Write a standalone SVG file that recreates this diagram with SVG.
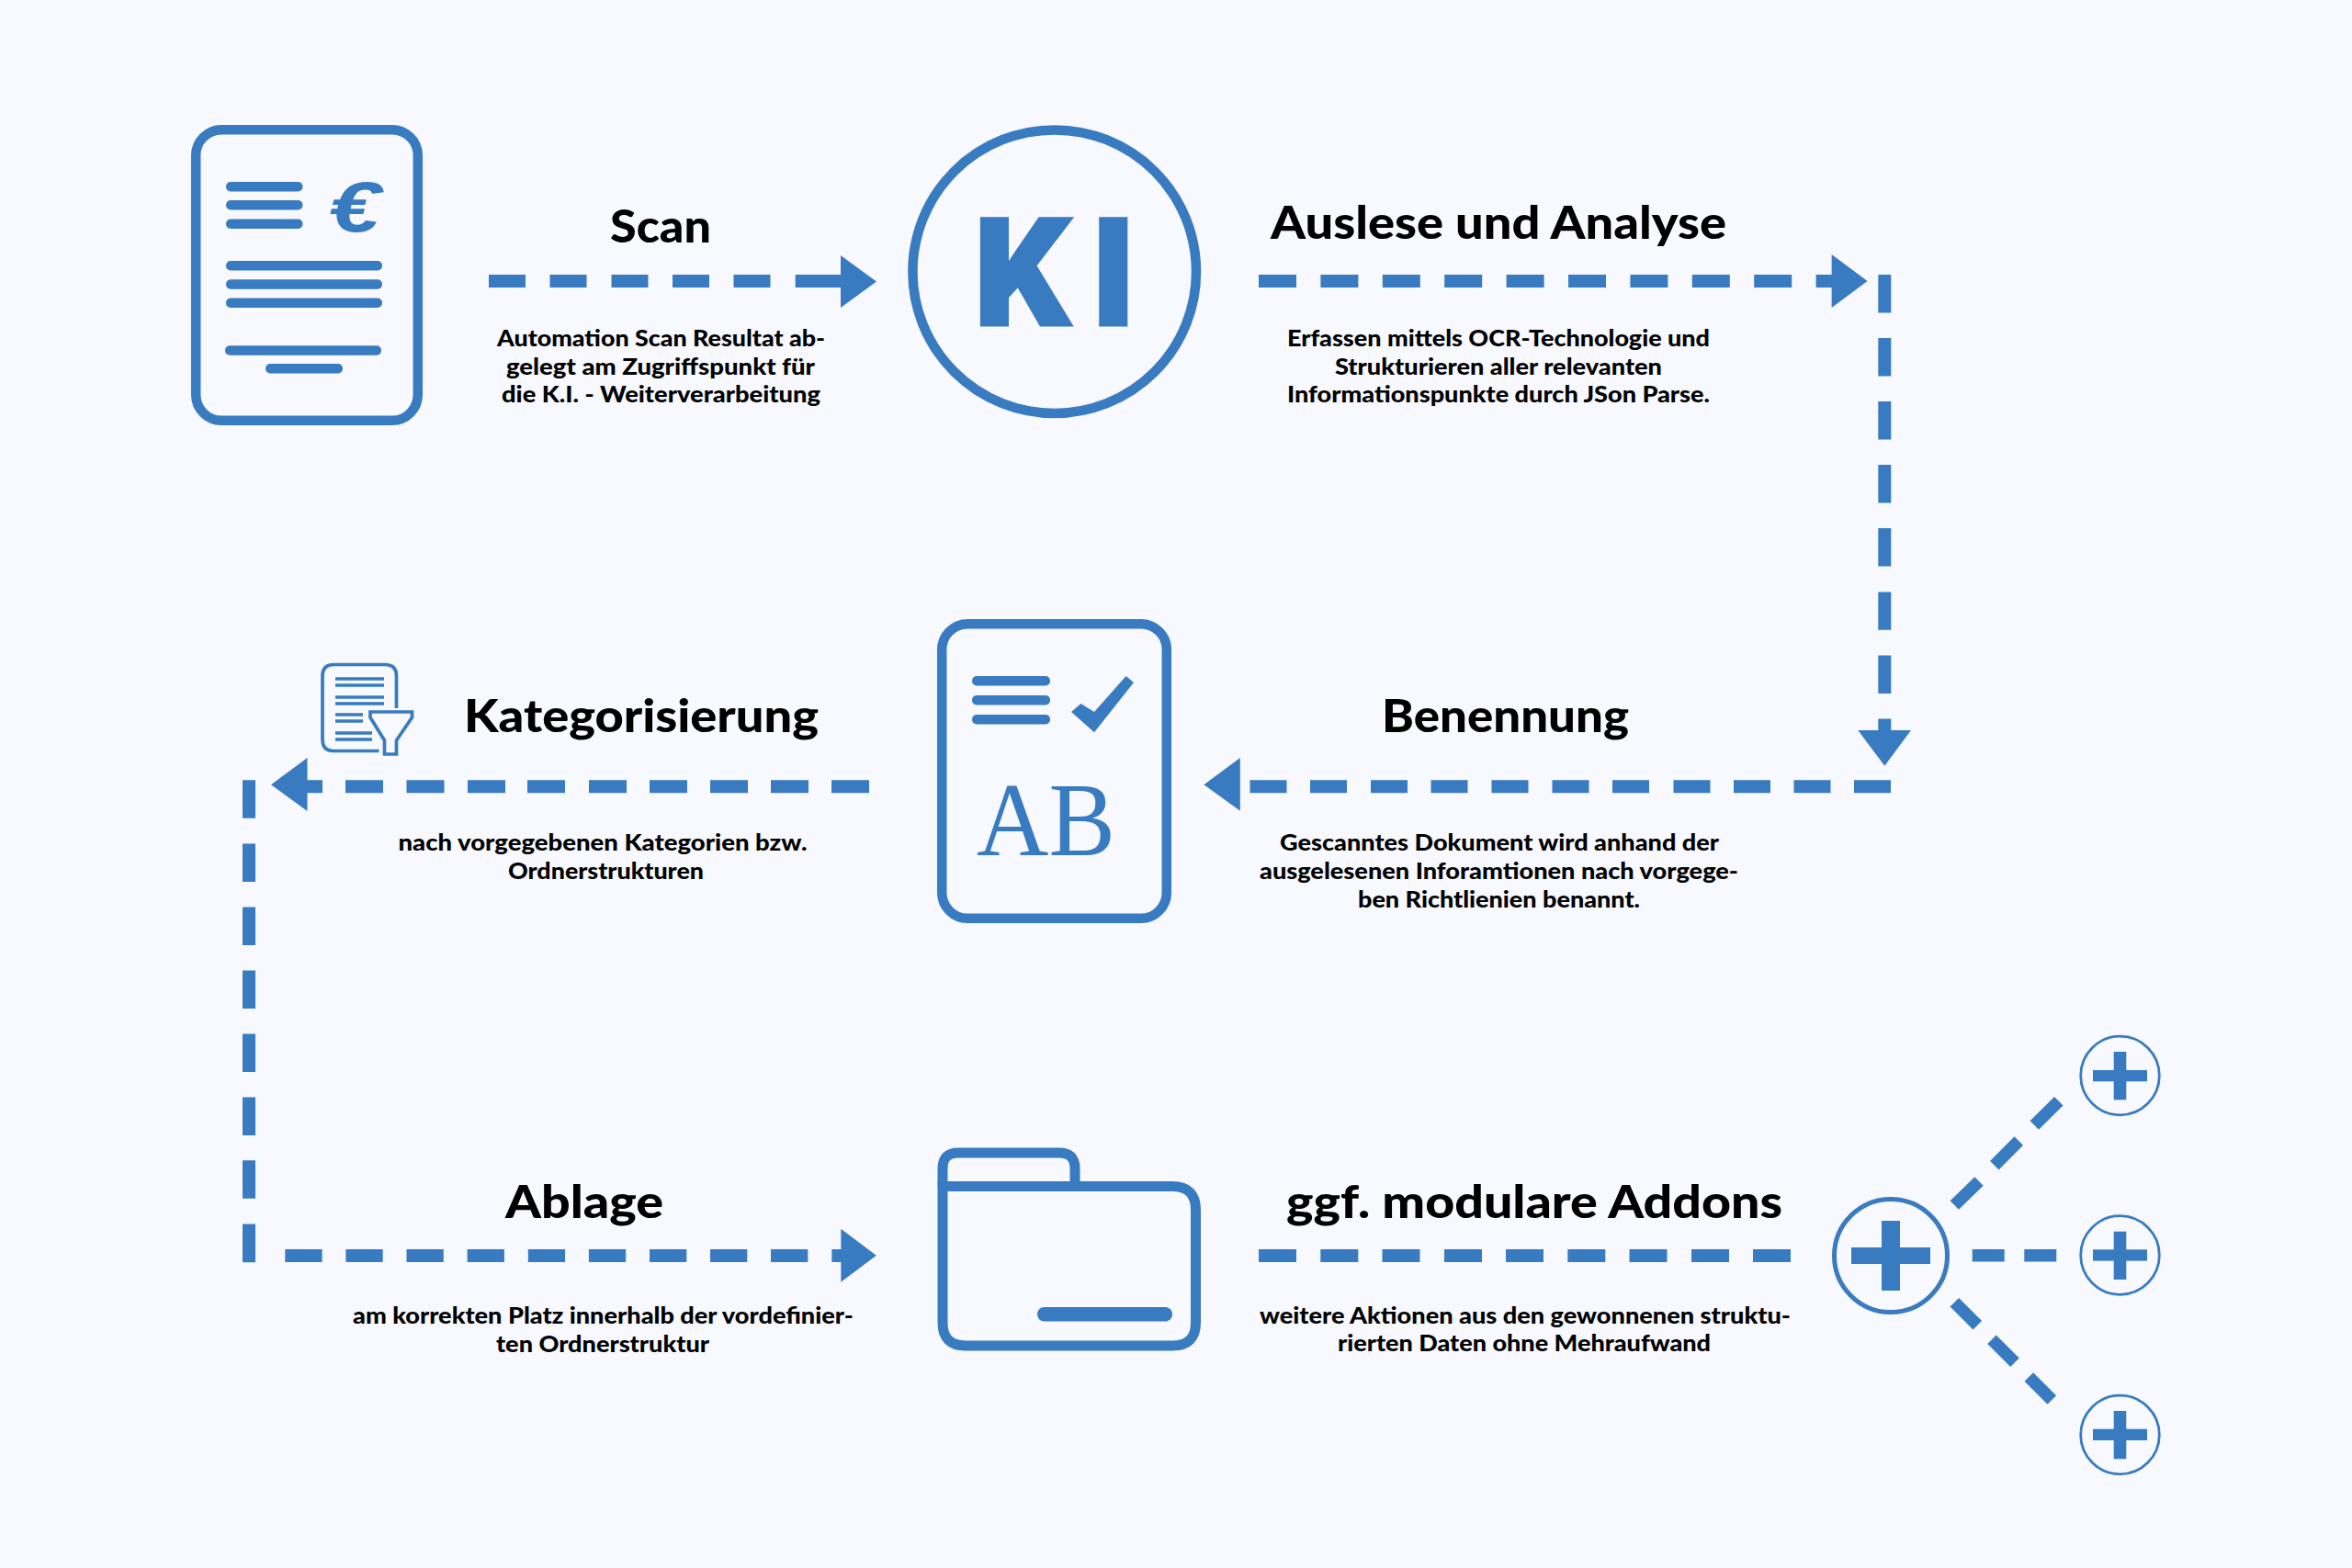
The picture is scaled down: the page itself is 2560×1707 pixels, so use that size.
<svg xmlns="http://www.w3.org/2000/svg" width="2560" height="1707" viewBox="0 0 2560 1707">
<style>
.bg{fill:#f7f9fe}
.f{fill:#397bc0}
.o{fill:none;stroke:#397bc0;stroke-width:10.5}
.o2{fill:none;stroke:#397bc0;stroke-width:3.7}
.bar{fill:#397bc0}
.d{fill:none;stroke:#397bc0;stroke-width:14}
.h,.b{font-family:"Lato","Liberation Sans",sans-serif;fill:#000}
.h{font-size:50px;font-weight:900}
.b{font-size:25px;font-weight:900}
.k{font-family:"Roboto","Liberation Sans",sans-serif;font-weight:900;font-size:164px;fill:#397bc0;stroke:#397bc0;stroke-width:3}
</style>
<rect class="bg" width="2560" height="1707"/>

<g id="connectors">
<g id="c-scan"><path class="d" d="M532 306h40M598.500 306h40M665.500 306h40M732 306h40M798.500 306h40M865.700 306h50"/><polygon class="f" points="915,278 954,306.500 915,335"/></g>
<g id="c-auslese"><path class="d" d="M1370 306h41M1437.400 306h41M1504.800 306h41M1572.200 306h41M1639.600 306h41M1707 306h41M1774.400 306h41M1841.800 306h41M1909.200 306h41M1976.600 306h20"/><polygon class="f" points="1993.600,277 2032.600,306 1993.600,335"/></g>
<g id="c-down"><path class="d" d="M2051.300 299v41.400M2051.300 368v41.400M2051.300 437v41.400M2051.300 506v41.400M2051.300 575v41.400M2051.300 644.400v41.400M2051.300 713.600v41.400M2051.300 782.500v15"/><polygon class="f" points="2022.300,795 2080,795 2051.300,833.800"/></g>
<g id="c-benennung"><path class="d" d="M2058 856.300h-40M1992.500 856.300h-40M1927 856.300h-40M1861.500 856.300h-40M1795 856.300h-40M1729.500 856.300h-40M1663.500 856.300h-40M1597.500 856.300h-40M1532 856.300h-40M1466 856.300h-40M1400.500 856.300h-40"/><polygon class="f" points="1349.800,825 1310.400,854.300 1349.800,882.700"/></g>
<g id="c-kategorie"><path class="d" d="M946 856.300h-41M880 856.300h-41M814 856.300h-41M748 856.300h-41M682 856.300h-41M615 856.300h-41M550 856.300h-41M483.500 856.300h-41M417 856.300h-41M351 856.300h-20"/><polygon class="f" points="334.500,825 295,854.300 334.500,883"/></g>
<g id="c-left"><path class="d" d="M271 849.200v41.500M271 918.400v41.500M271 987.500v41.500M271 1056.500v41.500M271 1125.500v41.500M271 1194.400v41.500M271 1263.300v41.500M271 1332.500v41.700"/></g>
<g id="c-ablage"><path class="d" d="M310.300 1367h40.300M376.400 1367h40.300M442.500 1367h40.300M508.600 1367h40.300M574.800 1367h40.300M640.900 1367h40.300M707 1367h40.300M773 1367h40.300M839 1367h40.300M905.300 1367h15"/><polygon class="f" points="915.300,1337.700 953.800,1366.700 915.300,1395.700"/></g>
<g id="c-addons"><path class="d" d="M1370 1367h41M1437.300 1367h41M1504.500 1367h41M1572 1367h41M1639 1367h41M1706.300 1367h41M1773.500 1367h41M1841 1367h41M1908 1367h41"/></g>
<g id="c-branches"><path class="d" style="stroke-width:13.500" d="M2127.300 1312L2154 1286M2170.800 1268.700L2197.300 1242M2214.300 1225L2240.800 1198.700M2146.700 1366.700h35M2203.300 1366.700h35M2127.300 1417.700L2152.300 1442.700M2168 1458.300L2193 1483.300M2208.300 1499L2233.300 1524"/></g>
</g>

<g id="node-doc-euro">
<rect class="o" x="213.200" y="141.200" width="241.600" height="316.600" rx="28" ry="28"/>
<rect class="bar" x="246" y="198" width="83.500" height="10.500" rx="5"/>
<rect class="bar" x="246" y="218" width="83.500" height="10.500" rx="5"/>
<rect class="bar" x="246" y="238.500" width="83.500" height="10.500" rx="5"/>
<rect class="bar" x="246" y="284" width="170" height="10.500" rx="5"/>
<rect class="bar" x="246" y="304.200" width="170" height="10.500" rx="5"/>
<rect class="bar" x="246" y="324.500" width="170" height="10.500" rx="5"/>
<rect class="bar" x="245" y="376.300" width="170" height="10.500" rx="5"/>
<rect class="bar" x="289" y="396" width="84" height="10.500" rx="5"/>
<text x="358" y="252" textLength="56" lengthAdjust="spacingAndGlyphs" style="font-family:'Liberation Sans',sans-serif;font-weight:700;font-style:italic;font-size:78px;fill:#397bc0">€</text>
</g>

<g id="node-ki">
<circle class="o" cx="1147.700" cy="295.700" r="154.300"/>
<text class="k" x="1059.500 1187" y="354.200">KI</text>
</g>

<g id="node-doc-ab">
<rect class="o" x="1025.200" y="679.200" width="244.600" height="320.600" rx="28" ry="28"/>
<rect class="bar" x="1058" y="736" width="85" height="10.500" rx="5"/>
<rect class="bar" x="1058" y="757" width="85" height="10.500" rx="5"/>
<rect class="bar" x="1058" y="778" width="85" height="10.500" rx="5"/>
<polygon class="f" points="1225.600,736 1234,743 1191,797.300 1166,775 1176.500,766 1191,775"/>
<text x="1063" y="931" textLength="151" lengthAdjust="spacingAndGlyphs" style="font-family:'Liberation Serif',serif;font-size:114px;fill:#397bc0">AB</text>
</g>

<g id="node-doc-filter">
<path class="o2" d="M431.500 771V736Q431.500 723.500 419 723.500H363Q351 723.500 351 736V805Q351 817.500 363 817.500H412.500"/>
<path class="o2" d="M365 739h53M365 746h53M365 759h53M365 766h53M365 778h30M365 785h30M365 798h40M365 805h40"/>
<path class="o2" d="M403 775H448.500V781L431.500 806V821H418.500V806L403 781Z"/>
</g>

<g id="node-folder">
<path class="o" style="stroke-width:11" d="M1026 1291V1272Q1026 1255 1043 1255H1153Q1170 1255 1170 1272V1291"/>
<path class="o" style="stroke-width:11" d="M1026 1291.500H1276Q1301.500 1291.500 1301.500 1317V1440Q1301.500 1465 1276 1465H1051Q1026 1465 1026 1440Z"/>
<rect class="bar" x="1129" y="1423" width="147" height="15.500" rx="7.500"/>
</g>

<g id="node-plus-main">
<circle class="o" style="stroke-width:5" cx="2058" cy="1367" r="61.500"/>
<rect class="f" x="2015" y="1358" width="86" height="18"/>
<rect class="f" x="2048" y="1329" width="20" height="76"/>
</g>
<g id="node-plus-1">
<circle class="o" style="stroke-width:2.800" cx="2307.500" cy="1171" r="42.800"/>
<rect class="f" x="2278" y="1165" width="59" height="12.300"/>
<rect class="f" x="2300.700" y="1145" width="13.600" height="52.300"/>
</g>
<g id="node-plus-2">
<circle class="o" style="stroke-width:2.800" cx="2307.500" cy="1366.500" r="42.800"/>
<rect class="f" x="2278" y="1360.300" width="59" height="12.300"/>
<rect class="f" x="2300.700" y="1340.700" width="13.600" height="52.300"/>
</g>
<g id="node-plus-3">
<circle class="o" style="stroke-width:2.800" cx="2307.500" cy="1562" r="42.800"/>
<rect class="f" x="2278" y="1555.700" width="59" height="12.300"/>
<rect class="f" x="2300.700" y="1536" width="13.600" height="52.300"/>
</g>

<g id="labels">
<text class="h" x="664" y="264" textLength="110" lengthAdjust="spacingAndGlyphs">Scan</text>
<text class="b" x="541" y="377" textLength="357" lengthAdjust="spacingAndGlyphs">Automation Scan Resultat ab-</text>
<text class="b" x="551" y="407.500" textLength="336" lengthAdjust="spacingAndGlyphs">gelegt am Zugriffspunkt für</text>
<text class="b" x="546" y="438" textLength="347" lengthAdjust="spacingAndGlyphs">die K.I. - Weiterverarbeitung</text>

<text class="h" x="1383" y="260" textLength="496" lengthAdjust="spacingAndGlyphs">Auslese und Analyse</text>
<text class="b" x="1401" y="377" textLength="460" lengthAdjust="spacingAndGlyphs">Erfassen mittels OCR-Technologie und</text>
<text class="b" x="1453" y="407.500" textLength="356" lengthAdjust="spacingAndGlyphs">Strukturieren aller relevanten</text>
<text class="b" x="1401" y="438" textLength="460" lengthAdjust="spacingAndGlyphs">Informationspunkte durch JSon Parse.</text>

<text class="h" x="1504" y="797" textLength="269" lengthAdjust="spacingAndGlyphs">Benennung</text>
<text class="b" x="1393" y="926" textLength="478" lengthAdjust="spacingAndGlyphs">Gescanntes Dokument wird anhand der</text>
<text class="b" x="1371" y="957" textLength="521" lengthAdjust="spacingAndGlyphs">ausgelesenen Inforamtionen nach vorgege-</text>
<text class="b" x="1478" y="988" textLength="307" lengthAdjust="spacingAndGlyphs">ben Richtlienien benannt.</text>

<text class="h" x="505" y="797" textLength="386" lengthAdjust="spacingAndGlyphs">Kategorisierung</text>
<text class="b" x="433.500" y="926" textLength="445" lengthAdjust="spacingAndGlyphs">nach vorgegebenen Kategorien bzw.</text>
<text class="b" x="553" y="956.500" textLength="213" lengthAdjust="spacingAndGlyphs">Ordnerstrukturen</text>

<text class="h" x="550" y="1326" textLength="172" lengthAdjust="spacingAndGlyphs">Ablage</text>
<text class="b" x="384" y="1441" textLength="545" lengthAdjust="spacingAndGlyphs">am korrekten Platz innerhalb der vordefinier-</text>
<text class="b" x="540" y="1471.500" textLength="232" lengthAdjust="spacingAndGlyphs">ten Ordnerstruktur</text>

<text class="h" x="1400" y="1326" textLength="540" lengthAdjust="spacingAndGlyphs">ggf. modulare Addons</text>
<text class="b" x="1371" y="1440.500" textLength="578" lengthAdjust="spacingAndGlyphs">weitere Aktionen aus den gewonnenen struktu-</text>
<text class="b" x="1456" y="1471" textLength="406" lengthAdjust="spacingAndGlyphs">rierten Daten ohne Mehraufwand</text>
</g>
</svg>
